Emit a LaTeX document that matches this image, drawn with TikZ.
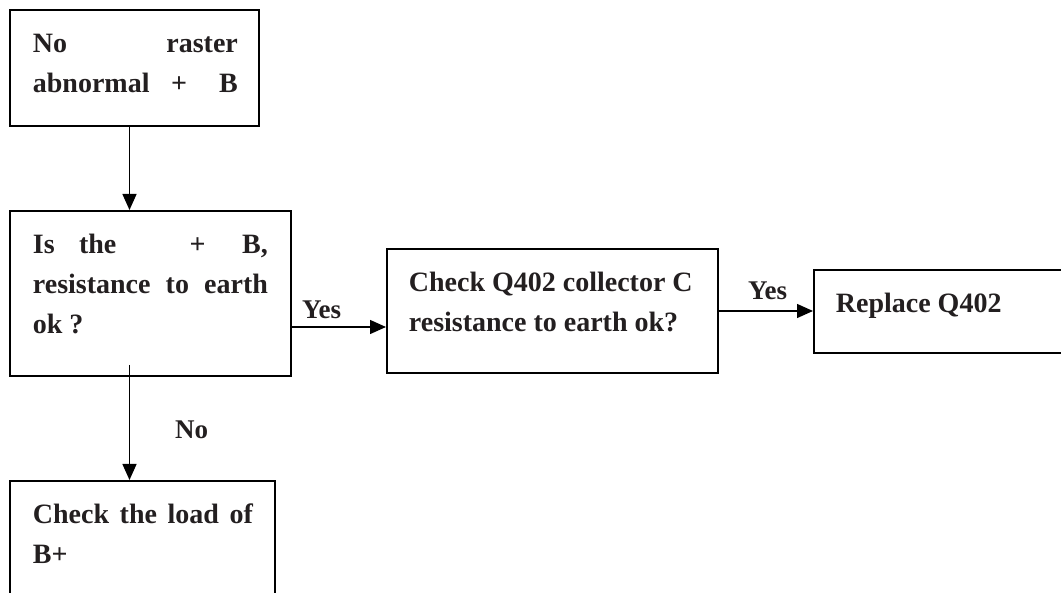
\documentclass[tikz,border=0pt]{standalone}
\usepackage{fontspec}
\setmainfont{Liberation Serif}
\usetikzlibrary{arrows.meta}
\definecolor{ink}{HTML}{231F20}
\newcommand{\btext}[4]{\begin{minipage}[t][#2][t]{#1}\fontsize{28pt}{40pt}\selectfont\bfseries\color{ink}\parindent=0pt\leftskip=#3\rightskip=0pt plus 1fil\rule{0pt}{43pt}#4\end{minipage}}
\newcommand{\gapf}[1]{\hspace{0pt plus #1fill}}
\tikzset{
  flowbox/.style={draw=black, line width=1.8pt, inner sep=0pt, anchor=north west},
  flowarrow/.style={line width=1.4pt, -{Triangle[length=16pt,width=14pt]}},
  flowlabel/.style={anchor=base west, inner sep=0pt, font=\fontsize{27pt}{30pt}\selectfont\bfseries, text=ink}
}
\begin{document}
\begin{tikzpicture}[x=1pt,y=-1pt]
\useasboundingbox (0,0) rectangle (1061,593);
\fill[white] (0,0) rectangle (1061,593);
\clip (0,0) rectangle (1061,593);
\node[flowbox] (n1) at (9,9) {\btext{249pt}{116pt}{23pt}{\makebox[205pt][s]{No raster}\\\makebox[205pt][l]{abnormal\gapf{2}+\gapf{3}B}}};
\node[flowbox] (n2) at (9,210) {\btext{281pt}{165pt}{23pt}{\makebox[235pt][l]{Is\gapf{2}the\gapf{6}+\gapf{3}B,}\\\makebox[235pt][s]{resistance to earth}\\ok ?}};
\node[flowbox] (n3) at (9,480) {\btext{265pt}{150pt}{23pt}{\makebox[220pt][s]{Check the load of}\\B+}};
\node[flowbox] (n4) at (386,248) {\btext{331pt}{124pt}{22pt}{Check Q402 collector C\\resistance to earth ok?}};
\node[flowbox] (n5) at (813,269) {\btext{300pt}{83pt}{22pt}{Replace Q402}};
\coordinate (vx) at (129.5,365);
\coordinate (h1) at (0,327);
\coordinate (h2) at (0,311);
\draw[flowarrow] (n1.south -| vx) -- (n2.north -| vx);
\draw[flowarrow] (vx) -- (n3.north -| vx);
\draw[flowarrow] (n2.east |- h1) -- (n4.west |- h1);
\draw[flowarrow] (n4.east |- h2) -- (n5.west |- h2);
\node[flowlabel] (l1) at (302,319) {Yes};
\node[flowlabel] (l2) at (748,300) {Yes};
\node[flowlabel] (l3) at (175,439) {No};
\end{tikzpicture}
\end{document}
